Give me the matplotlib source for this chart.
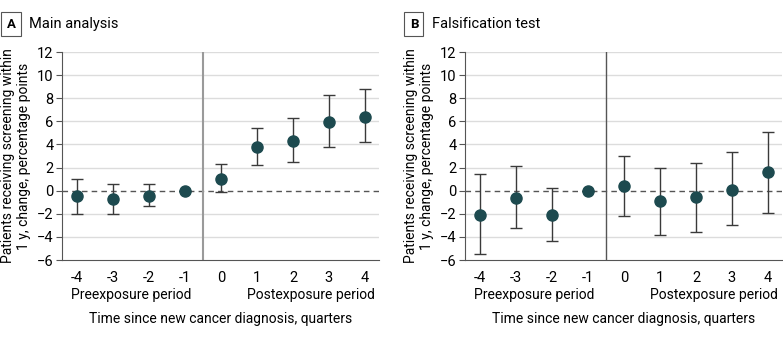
import numpy as np
import matplotlib
matplotlib.use('Agg')
import matplotlib.pyplot as plt

plt.rcParams['font.family'] = ['Liberation Sans Narrow', 'Roboto', 'DejaVu Sans']

# datos
quarters = [-4, -3, -2, -1, 0, 1, 2, 3, 4]

main_est = [-0.45, -0.71, -0.43, 0.0, 0.97, 3.80, 4.31, 5.97, 6.37]
main_lo = [-2.06, -2.03, -1.37, 0.0, -0.11, 2.20, 2.49, 3.77, 4.17]
main_hi = [1.03, 0.54, 0.60, 0.0, 2.31, 5.40, 6.26, 8.29, 8.80]

fals_est = [-2.11, -0.66, -2.09, 0.0, 0.37, -0.89, -0.54, 0.09, 1.63]
fals_lo = [-5.49, -3.20, -4.37, 0.0, -2.23, -3.80, -3.60, -2.97, -1.89]
fals_hi = [1.46, 2.14, 0.23, 0.0, 3.00, 1.94, 2.40, 3.34, 5.11]

yticks = [-6, -4, -2, 0, 2, 4, 6, 8, 10, 12]

fig = plt.figure(figsize=(7.83, 3.38), dpi=100)

paneles = [
    ('A', 'Main analysis', main_est, main_lo, main_hi, 62, '#9a9a9a', 1.5),
    ('B', 'Falsification test', fals_est, fals_lo, fals_hi, 465, '#555555', 1.0),
]

fs = 10

for letra, titulo, est, lo, hi, x0, vcol, vlw in paneles:
    ax = fig.add_axes([x0/783, 1-260/338, 317/783, 208/338])
    est = np.array(est); lo = np.array(lo); hi = np.array(hi)
    ax.set_xlim(-4.42, 4.39)
    ax.set_ylim(-6, 12)
    ax.set_yticks(yticks)
    ax.set_xticks(quarters)
    ax.set_xticklabels([str(q) for q in quarters])
    for t in yticks:
        if t != 0 and t != -6:
            ax.axhline(t, color='#dcdcdc', lw=1, zorder=0)
    ax.axhline(0, color='#555555', lw=1, ls=(0, (4, 3)), zorder=1)
    ax.axvline(-0.5, color=vcol, lw=vlw, zorder=1)
    ax.errorbar(quarters, est, yerr=[est-lo, hi-est], fmt='none',
                ecolor='#3a3a3a', elinewidth=1, capsize=4, capthick=1, zorder=2)
    ax.plot(quarters, est, 'o', color='#1d4a4f', ms=8, zorder=3)
    for s in ['top', 'right']:
        ax.spines[s].set_visible(False)
    ax.spines['left'].set_color('#555555')
    ax.spines['bottom'].set_color('#555555')
    ax.tick_params(axis='y', length=4, color='#555555', labelsize=10.5, pad=2)
    ax.tick_params(axis='x', length=0, labelsize=10.5, pad=8)
    ax.set_ylabel('Patients receiving screening within\n1 y, change, percentage points',
                  fontsize=fs, labelpad=4)
    ax.text(-2.5, -9.05, 'Preexposure period', ha='center', va='center', fontsize=fs)
    ax.text(2.5, -9.05, 'Postexposure period', ha='center', va='center', fontsize=fs)
    ax.text(0, -11.1, 'Time since new cancer diagnosis, quarters', ha='center',
            va='center', fontsize=fs)
    # etiqueta del panel
    bx = (x0 - 60)/783
    fig.text(bx + 0.006, 1-24/338, letra, fontsize=9.5, fontweight='bold',
             va='center', ha='left',
             bbox=dict(boxstyle='square,pad=0.4', fc='white', ec='#555555', lw=0.8))
    fig.text(bx + 0.034, 1-24/338, titulo, fontsize=10.5, va='center', ha='left')

fig.savefig('out.png', dpi=100)
